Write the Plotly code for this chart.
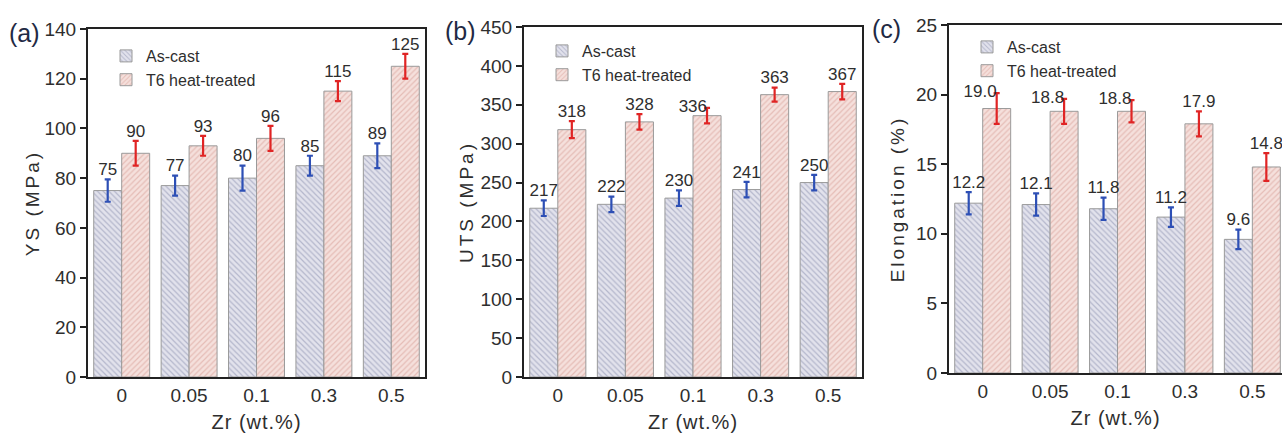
import plotly.graph_objects as go

categories = ["0", "0.05", "0.1", "0.3", "0.5"]
series_names = ["As-cast", "T6 heat-treated"]

ys_cast = [75, 77, 80, 85, 89]
ys_cast_err = [4.5, 4, 5, 4, 5]
ys_t6 = [90, 93, 96, 115, 125]
ys_t6_err = [5, 4, 5, 4, 5]

uts_cast = [217, 222, 230, 241, 250]
uts_cast_err = [10, 10, 10, 10, 10]
uts_t6 = [318, 328, 336, 363, 367]
uts_t6_err = [11, 10, 10, 9, 10]

el_cast = [12.2, 12.1, 11.8, 11.2, 9.6]
el_cast_err = [0.8, 0.8, 0.8, 0.7, 0.7]
el_t6 = [19.0, 18.8, 18.8, 17.9, 14.8]
el_t6_err = [1.1, 0.9, 0.8, 0.9, 1.0]

el_cast_lbl = ["12.2", "12.1", "11.8", "11.2", "9.6"]
el_t6_lbl = ["19.0", "18.8", "18.8", "17.9", "14.8"]

TOP = "top center"
LEFT = "middle left"
uts_t6_pos = [TOP, TOP, LEFT, TOP, TOP]
el_t6_pos = [LEFT, LEFT, LEFT, TOP, TOP]

panels = [
    dict(tag="(a)", ytitle="YS (MPa)", cast=ys_cast, cerr=ys_cast_err, t6=ys_t6, terr=ys_t6_err,
         clbl=[str(v) for v in ys_cast], tlbl=[str(v) for v in ys_t6], tpos=[TOP] * 5,
         yrange=[0, 140], dtick=20, xdom=[88, 425], ydom=[29, 377], xr=[-0.5, 4.5], mirror=True,
         leg_dy=10, standoff=0),
    dict(tag="(b)", ytitle="UTS (MPa)", cast=uts_cast, cerr=uts_cast_err, t6=uts_t6, terr=uts_t6_err,
         clbl=[str(v) for v in uts_cast], tlbl=[str(v) for v in uts_t6], tpos=uts_t6_pos,
         yrange=[0, 450], dtick=50, xdom=[524, 862], ydom=[27, 377], xr=[-0.5, 4.5], mirror=True,
         leg_dy=7, standoff=2),
    dict(tag="(c)", ytitle="Elongation (%)", cast=el_cast, cerr=el_cast_err, t6=el_t6, terr=el_t6_err,
         clbl=el_cast_lbl, tlbl=el_t6_lbl, tpos=el_t6_pos,
         yrange=[0, 25], dtick=5, xdom=[949, 1282], ydom=[25, 373], xr=[-0.5, 4.44], mirror=False,
         leg_dy=5, standoff=6),
]

W, H = 1282, 436
BAR_GAP = 0.17
xs = list(range(len(categories)))
off = (1 - BAR_GAP) / 4

CAST_BG = "#e2e2ec"
CAST_FG = "#868bab"
T6_BG = "#f5e0dc"
T6_FG = "#d59890"
TXT = "#2e2e2e"
FONT = "Liberation Sans, Arial, sans-serif"


def spaced(t, px):
    return '<span style="letter-spacing:%dpx">' % px + t + "</span>"


fig = go.Figure()
layout = dict(width=W, height=H, margin=dict(l=0, r=0, t=0, b=0, autoexpand=False),
              paper_bgcolor="white", plot_bgcolor="white",
              barmode="group", bargap=BAR_GAP, bargroupgap=0,
              font=dict(family=FONT, color=TXT), showlegend=True)
annotations = []

for i, p in enumerate(panels):
    sfx = "" if i == 0 else str(i + 1)
    xa, ya = "x" + sfx, "y" + sfx
    leg = "legend" + sfx
    fig.add_trace(go.Bar(
        x=xs, y=p["cast"], name=series_names[0], xaxis=xa, yaxis=ya, legend=leg,
        marker=dict(color=CAST_BG, line=dict(color="#9a9a9a", width=1),
                    pattern=dict(shape="\\", fgcolor=CAST_FG, bgcolor=CAST_BG, size=4, solidity=0.3)),
        error_y=dict(type="data", array=p["cerr"], color="#2d4fb5", thickness=2.2, width=3),
    ))
    fig.add_trace(go.Bar(
        x=xs, y=p["t6"], name=series_names[1], xaxis=xa, yaxis=ya, legend=leg,
        marker=dict(color=T6_BG, line=dict(color="#9a9a9a", width=1),
                    pattern=dict(shape="/", fgcolor=T6_FG, bgcolor=T6_BG, size=4, solidity=0.3)),
        error_y=dict(type="data", array=p["terr"], color="#e02424", thickness=2.2, width=3),
    ))
    fig.add_trace(go.Scatter(
        x=[x - off for x in xs], y=[v + e for v, e in zip(p["cast"], p["cerr"])],
        mode="text", text=p["clbl"], textposition="top center",
        textfont=dict(size=17, color=TXT), xaxis=xa, yaxis=ya, showlegend=False, cliponaxis=False))
    fig.add_trace(go.Scatter(
        x=[x + off for x in xs], y=[v + e for v, e in zip(p["t6"], p["terr"])],
        mode="text", text=p["tlbl"], textposition=p["tpos"],
        textfont=dict(size=17, color=TXT), xaxis=xa, yaxis=ya, showlegend=False, cliponaxis=False))

    xd = [p["xdom"][0] / W, p["xdom"][1] / W]
    yd = [1 - p["ydom"][1] / H, 1 - p["ydom"][0] / H]
    layout["xaxis" + sfx] = dict(
        domain=xd, anchor=ya, range=p["xr"], tickvals=xs, ticktext=categories, automargin=False,
        showline=True, linecolor="#222", linewidth=2, mirror=True, ticks="",
        tickfont=dict(size=19, color=TXT), showgrid=False, zeroline=False,
        title=dict(text=spaced("Zr (wt.%)", 1), font=dict(size=20, color=TXT), standoff=10))
    layout["yaxis" + sfx] = dict(
        domain=yd, anchor=xa, range=p["yrange"], dtick=p["dtick"], automargin=False,
        showline=True, linecolor="#222", linewidth=2, mirror=p["mirror"],
        ticks="outside", ticklen=6, tickcolor="#222", tickwidth=1.5,
        tickfont=dict(size=19, color=TXT), showgrid=False, zeroline=False,
        title=dict(text=spaced(p["ytitle"], 3), font=dict(size=19, color=TXT), standoff=p["standoff"]))
    layout[leg] = dict(x=(p["xdom"][0] + 18) / W, y=1 - (p["ydom"][0] + p["leg_dy"]) / H,
                       xanchor="left", yanchor="top", bgcolor="rgba(0,0,0,0)",
                       font=dict(size=16, color=TXT), traceorder="normal")
    annotations.append(dict(text=p["tag"], x=(p["xdom"][0] - 46) / W, y=1 - (p["ydom"][0] + 4) / H,
                            xref="paper", yref="paper", xanchor="right", yanchor="middle",
                            showarrow=False, font=dict(size=25, color="#1f2a44")))

layout["annotations"] = annotations
fig.update_layout(**layout)
fig.write_html("out.html", config={"displayModeBar": False},
               post_script="document.body.style.margin='0';document.body.style.overflow='hidden';")
